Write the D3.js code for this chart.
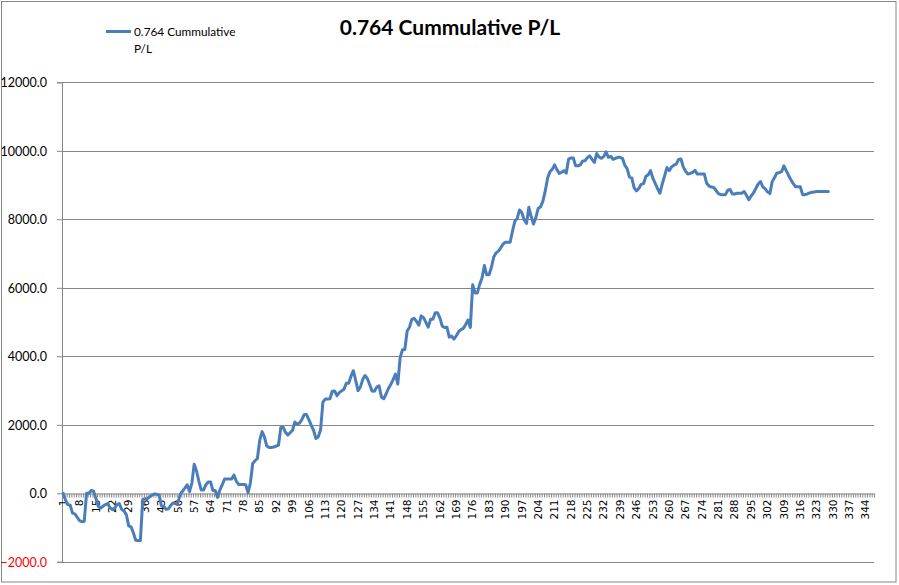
<!DOCTYPE html>
<html>
<head>
<meta charset="utf-8">
<script src="https://cdn.jsdelivr.net/npm/d3@7"></script>
<style>
  html, body { margin: 0; padding: 0; background: #fff; }
  svg { display: block; }
</style>
</head>
<body>
<svg id="chart" width="899" height="585"></svg>
<script>
// ---- data ----
const title = "0.764 Cummulative P/L";
const seriesName = "0.764 Cummulative P/L";
const categoryCount = 347;
const categories = d3.range(1, categoryCount + 1);
const pl = [
  0, -200, -330, -350, -580, -600, -700, -800, -830, -820,
  0, 0, 80, 60, -150, -380, -430, -380, -330, -300,
  -420, -480, -430, -330, -300, -470, -520, -620, -950, -980,
  -1150, -1370, -1380, -1380, -180, -160, -150, -100, -50, -20,
  -30, -50, -370, -380, -470, -450, -350, -280, -300, -280,
  -30, 60, 150, 250, 50, 300, 850, 650, 350, 100,
  100, 250, 330, 330, 80, 80, -120, 100, 250, 420,
  420, 420, 420, 530, 350, 260, 260, 260, 250, 20,
  300, 870, 950, 1015, 1550, 1800, 1650, 1380, 1340, 1340,
  1350, 1380, 1400, 1920, 1930, 1780, 1700, 1770, 1840, 2080,
  2020, 2050, 2150, 2300, 2300, 2150, 1990, 1840, 1600, 1650,
  1850, 2660, 2750, 2750, 2760, 2980, 2990, 2850, 2940, 2990,
  3040, 3210, 3210, 3420, 3580, 3300, 3000, 3100, 3320, 3440,
  3350, 3170, 2990, 2980, 3100, 3140, 2810, 2760, 2900, 3060,
  3180, 3320, 3480, 3190, 3960, 4190, 4200, 4740, 4850, 5080,
  5110, 5020, 4910, 5180, 5130, 4990, 4850, 5080, 5080, 5270,
  5270, 5120, 4880, 4840, 4850, 4560, 4590, 4500, 4600, 4720,
  4780, 4815, 4930, 5060, 4840, 6090, 5850, 5850, 6100, 6290,
  6650, 6380, 6380, 6600, 6900, 7020, 7070, 7170, 7280, 7330,
  7330, 7330, 7650, 7940, 8020, 8270, 8200, 7980, 7880, 8350,
  8080, 7860, 8050, 8320, 8360, 8530, 8820, 9200, 9390, 9460,
  9590, 9450, 9340, 9370, 9420, 9350, 9760, 9790, 9790, 9560,
  9560, 9590, 9700, 9710, 9800, 9850, 9750, 9660, 9920, 9820,
  9780, 9830, 9970, 9810, 9840, 9750, 9780, 9810, 9810, 9780,
  9580, 9480, 9230, 9210, 8920, 8830, 8900, 9020, 9040, 9250,
  9300, 9420, 9200, 9050, 8900, 8760, 9030, 9260, 9510, 9420,
  9530, 9580, 9610, 9750, 9760, 9530, 9400, 9320, 9340, 9370,
  9430, 9320, 9320, 9320, 9320, 9050, 8970, 8940, 8930, 8840,
  8750, 8720, 8720, 8720, 8850, 8870, 8740, 8740, 8760, 8760,
  8760, 8810, 8700, 8570, 8680, 8770, 8900, 9030, 9100, 8950,
  8890, 8800, 8750, 9100, 9220, 9350, 9360, 9390, 9560, 9420,
  9280, 9150, 9040, 8950, 8950, 8950, 8720, 8720, 8740, 8770,
  8790, 8800, 8810, 8810, 8810, 8810, 8810, 8810
];
const yTicks = [-2000, 0, 2000, 4000, 6000, 8000, 10000, 12000];
const xLabelStep = 7;

// ---- layout ----
const svg = d3.select("#chart");
const plot = { left: 62, right: 874, top: 82.3, bottom: 561.8 };
const gray = "#868686";
const blue = "#4A7EBB";

svg.append("rect")
  .attr("x", 1.5).attr("y", 1.5)
  .attr("width", 894.5).attr("height", 580.5)
  .attr("fill", "#fff").attr("stroke", gray).attr("stroke-width", 1);

const x = d3.scaleBand().domain(categories).range([plot.left, plot.right]).padding(0);
const xLin = d3.scaleLinear().domain([0, categoryCount]).range([plot.left, plot.right]);
const y = d3.scaleLinear().domain([-2000, 12000]).range([plot.bottom, plot.top]);

// gridlines + y axis
const yAxis = d3.axisLeft(y).tickValues(yTicks).tickSize(5).tickPadding(10)
  .tickFormat(d => d3.format(".1f")(d));
const gy = svg.append("g").attr("transform", `translate(${plot.left},0)`).call(yAxis);
gy.select(".domain").attr("stroke", gray);
gy.selectAll(".tick line").attr("stroke", gray);
gy.selectAll(".tick text")
  .attr("font-family", "Lato, 'Open Sans', sans-serif")
  .attr("font-size", "12.5px")
  .attr("fill", d => d < 0 ? "#FF0000" : "#000")
  .attr("dy", "0.36em");

svg.append("g").selectAll("line.grid").data(yTicks.filter(d => d !== 0)).join("line")
  .attr("x1", plot.left).attr("x2", plot.right)
  .attr("y1", d => Math.round(y(d)) + 0.5).attr("y2", d => Math.round(y(d)) + 0.5)
  .attr("stroke", gray).attr("stroke-width", 1);

// x axis at zero
const y0 = Math.round(y(0)) + 0.5;
const xTickAxis = d3.axisBottom(xLin).tickValues(d3.range(0, categoryCount + 1)).tickSize(4).tickFormat("");
const gxt = svg.append("g").attr("transform", `translate(0,${y0})`).call(xTickAxis);
gxt.select(".domain").attr("stroke", gray);
gxt.selectAll(".tick line").attr("stroke", gray);

const xLabelAxis = d3.axisBottom(x)
  .tickValues(categories.filter((d, i) => i % xLabelStep === 0))
  .tickSize(0).tickPadding(0);
const gxl = svg.append("g").attr("transform", `translate(0,${y0})`).call(xLabelAxis);
gxl.select(".domain").remove();
gxl.selectAll(".tick text")
  .attr("font-family", "'DejaVu Sans', Verdana, sans-serif")
  .attr("font-size", "10.5px")
  .attr("fill", "#000")
  .attr("text-anchor", "end")
  .attr("transform", "rotate(-90)")
  .attr("x", -6).attr("y", 0).attr("dy", "0.35em");

// line
const line = d3.line()
  .x((d, i) => x(categories[i]) + x.bandwidth() / 2)
  .y(d => y(d));
svg.append("path").datum(pl)
  .attr("d", line)
  .attr("fill", "none").attr("stroke", blue)
  .attr("stroke-width", 3).attr("stroke-linejoin", "round").attr("stroke-linecap", "round");

// title
svg.append("text").attr("x", 450).attr("y", 35)
  .attr("text-anchor", "middle")
  .attr("font-family", "Lato, 'Open Sans', sans-serif")
  .attr("font-weight", "bold").attr("font-size", "21px")
  .text(title);

// legend
svg.append("line").attr("x1", 106).attr("x2", 131).attr("y1", 31.5).attr("y2", 31.5)
  .attr("stroke", blue).attr("stroke-width", 3);
const legWords = seriesName.split(" ");
const lt = svg.append("text")
  .attr("font-family", "Lato, 'Open Sans', sans-serif")
  .attr("font-size", "11.8px").attr("fill", "#000");
lt.append("tspan").attr("x", 134).attr("y", 36).text(legWords.slice(0, 2).join(" "));
lt.append("tspan").attr("x", 134).attr("y", 52.5).text(legWords.slice(2).join(" "));
</script>
</body>
</html>
